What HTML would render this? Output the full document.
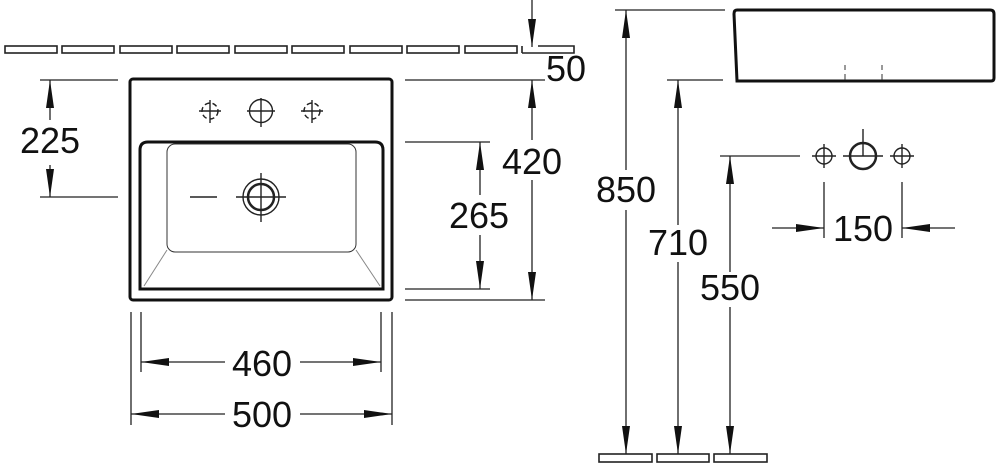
<!DOCTYPE html>
<html><head><style>
html,body{margin:0;padding:0;background:#fff;}
svg{display:block;}
text{font-family:"Liberation Sans",sans-serif;font-size:36px;fill:#111;}
</style></head><body>
<svg width="1000" height="470" viewBox="0 0 1000 470" xmlns="http://www.w3.org/2000/svg">
<g fill="none" stroke="#222" stroke-width="1.6">
<rect x="5" y="46" width="52" height="7"/>
<rect x="62" y="46" width="52" height="7"/>
<rect x="120" y="46" width="52" height="7"/>
<rect x="177" y="46" width="52" height="7"/>
<rect x="235" y="46" width="52" height="7"/>
<rect x="292" y="46" width="52" height="7"/>
<rect x="350" y="46" width="52" height="7"/>
<rect x="407" y="46" width="52" height="7"/>
<rect x="465" y="46" width="52" height="7"/>
<path d="M522 53 V46 M538 46 H574 V53 H522"/>
<rect x="599" y="454" width="53" height="8"/>
<rect x="657" y="454" width="52" height="8"/>
<rect x="714" y="454" width="53" height="8"/>
</g>
<rect x="130" y="79" width="262" height="221" rx="3" fill="none" stroke="#111" stroke-width="3"/>
<path d="M148 142 H375 Q383 142 383 150 V289 H140 V150 Q140 142 148 142 Z" fill="none" stroke="#111" stroke-width="3"/>
<rect x="167" y="144" width="189" height="108" rx="8" fill="none" stroke="#333" stroke-width="1"/>
<path d="M167 250 L144 286 M356 250 L380 286" stroke="#888" stroke-width="1"/>
<g stroke="#222" stroke-width="1.4" fill="none">
<circle cx="210" cy="111" r="8" stroke-dasharray="5 3"/>
<path d="M199 111 H221 M210 100 V123"/>
<circle cx="261" cy="111" r="11.5"/>
<path d="M247 111 H275 M261 98 V127"/>
<circle cx="312" cy="111" r="8" stroke-dasharray="5 3"/>
<path d="M301 111 H323 M312 100 V123"/>
<circle cx="261" cy="197" r="13" stroke-width="2.5"/>
<circle cx="261" cy="197" r="18"/>
<path d="M236 197 H286 M261 173 V222 M190 197 H217"/>
</g>
<g stroke="#222" stroke-width="1.3">
<path d="M40 80 H118 M40 197 H118 M50 80 V120 M50 165 V197"/>
<path d="M405 142 H490 M405 289 H490 M480 142 V195 M480 235 V289"/>
<path d="M405 80 H545 M405 300 H545 M532 80 V140 M532 180 V300 M532 0 V47"/>
<path d="M131 312 V425 M141 312 V372 M381 312 V372 M392 312 V425"/>
<path d="M141 362 H225 M300 362 H381 M131 414 H225 M300 414 H392"/>
<path d="M615 10 H725 M626 10 V170 M626 210 V454"/>
<path d="M667 80 H723 M678 80 V225 M678 262 V454"/>
<path d="M720 156 H800 M730 156 V272 M730 307 V454"/>
<path d="M824 182 V238 M902 182 V238 M772 228 H824 M902 228 H955"/>
</g>
<g fill="#111">
<path d="M50 80 l-4 28 h8z M50 197 l-4 -28 h8z"/>
<path d="M480 142 l-4 28 h8z M480 289 l-4 -28 h8z"/>
<path d="M532 80 l-4 28 h8z M532 300 l-4 -28 h8z M532 47 l-4 -28 h8z"/>
<path d="M141 362 l28 -4 v8z M381 362 l-28 -4 v8z M131 414 l28 -4 v8z M392 414 l-28 -4 v8z"/>
<path d="M626 10 l-4 28 h8z M626 454 l-4 -28 h8z"/>
<path d="M678 80 l-4 28 h8z M678 454 l-4 -28 h8z"/>
<path d="M730 156 l-4 28 h8z M730 454 l-4 -28 h8z"/>
<path d="M824 228 l-28 -4 v8z M902 228 l28 -4 v8z"/>
</g>
<path d="M737 10 H990 Q994 10 994 14 V78 Q994 81 991 81 H737 L734 14 Q734 10 737 10 Z" fill="none" stroke="#111" stroke-width="3"/>
<path d="M845 65 V70 M845 74 V80 M882 65 V70 M882 74 V80" stroke="#333" stroke-width="1"/>
<g stroke="#222" stroke-width="1.4" fill="none">
<circle cx="824" cy="156" r="8"/>
<path d="M812 156 H836 M824 144 V168"/>
<circle cx="863" cy="156" r="13" stroke-width="2.5"/>
<path d="M843 156 H883 M863 129 V156"/>
<circle cx="902" cy="156" r="8"/>
<path d="M890 156 H914 M902 144 V168"/>
</g>
<text x="50" y="153" text-anchor="middle">225</text>
<text x="479" y="228" text-anchor="middle">265</text>
<text x="532" y="174" text-anchor="middle">420</text>
<text x="566" y="81" text-anchor="middle">50</text>
<text x="262" y="376" text-anchor="middle">460</text>
<text x="262" y="427" text-anchor="middle">500</text>
<text x="626" y="202" text-anchor="middle">850</text>
<text x="678" y="255" text-anchor="middle">710</text>
<text x="730" y="300" text-anchor="middle">550</text>
<text x="863" y="241" text-anchor="middle">150</text>
</svg>
</body></html>
